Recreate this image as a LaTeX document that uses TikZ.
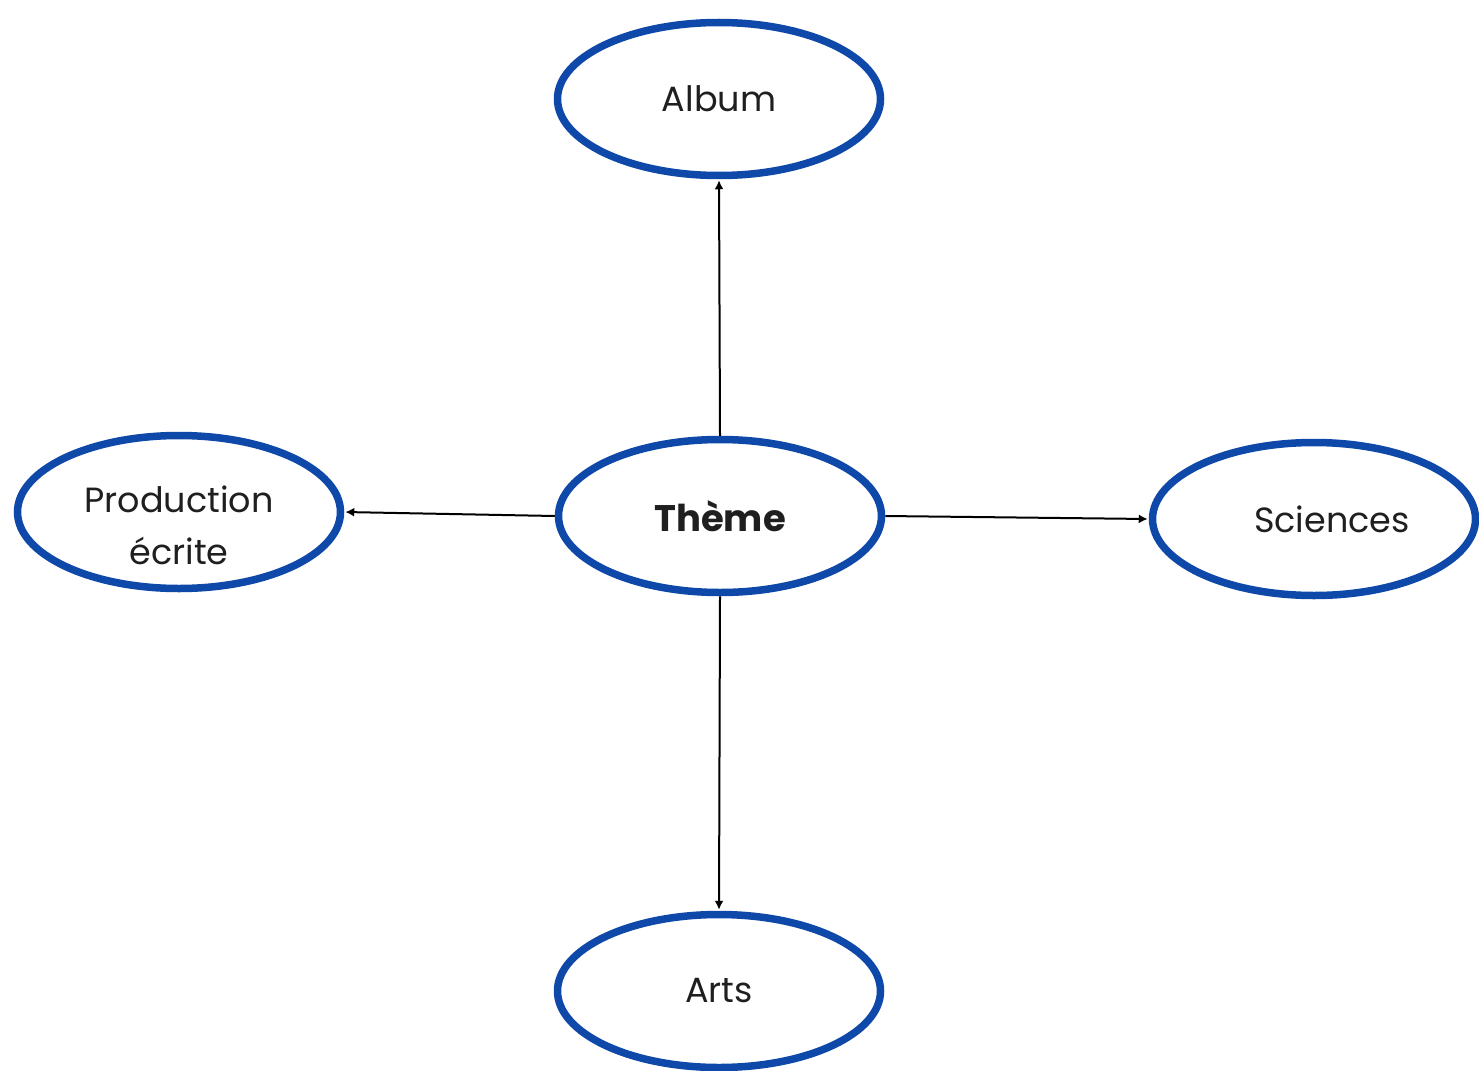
\documentclass[tikz,border=0pt]{standalone}
\usepackage{fontspec}
\setmainfont{Poppins}
\usetikzlibrary{shapes.geometric,arrows.meta}
\definecolor{ovalblue}{RGB}{14,72,168}
\tikzset{
  oval/.style={ellipse, draw=ovalblue, line width=7.5pt, fill=white,
    minimum width=323pt, minimum height=153pt, inner sep=0pt,
    font=\fontsize{35pt}{52pt}\selectfont, align=center, text=black!88},
  link/.style={draw=black, line width=2pt, -{Latex[length=9pt,width=9pt]}, shorten >=1pt}
}
\begin{document}
\begin{tikzpicture}[x=1pt,y=-1pt]
\useasboundingbox (0,0) rectangle (1479,1070);
\node[oval] (album) at (719,99) {Album};
\node[oval, font=\fontsize{37pt}{44pt}\selectfont\bfseries] (theme) at (720,516) {Thème};
\node[oval] (prod) at (179,512) {\raisebox{-22pt}[0pt][0pt]{\begin{tabular}{@{}c@{}}Production\\écrite\end{tabular}}};
\node[oval] (sci) at (1314,519) {\hspace*{36pt}Sciences};
\node[oval] (arts) at (719,991) {Arts};
\draw[link] (theme.north) -- (album.south);
\draw[link] (theme.west) -- (prod.east);
\draw[link] (theme.east) -- (sci.west);
\draw[link] (theme.south) -- (arts.north);
\end{tikzpicture}
\end{document}
